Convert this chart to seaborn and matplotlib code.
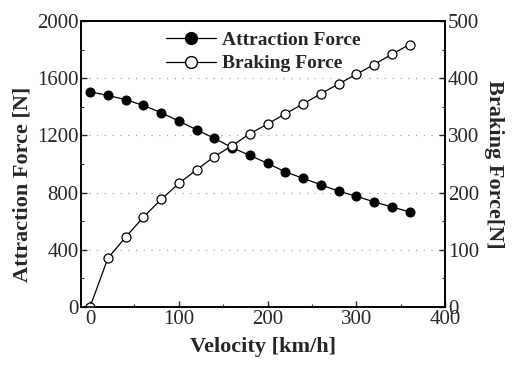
import matplotlib
matplotlib.use("Agg")
import matplotlib.pyplot as plt
import seaborn as sns
import pandas as pd
from matplotlib.ticker import MultipleLocator
from matplotlib.lines import Line2D

velocity = [0, 20, 40, 60, 80, 100, 120, 140, 160, 180, 200, 220, 240, 260, 280, 300, 320, 340, 360]
attraction = [1505, 1480, 1450, 1410, 1360, 1300, 1240, 1180, 1115, 1060, 1005, 945, 900, 855, 810, 775, 735, 700, 665]
braking = [0, 85, 122, 157, 188, 216, 240, 263, 282, 303, 320, 338, 355, 373, 390, 407, 424, 442, 459]

df = pd.DataFrame({"Velocity": velocity, "Attraction": attraction, "Braking": braking})

sns.set_theme(style="ticks")
plt.rcParams["font.family"] = ["Liberation Serif", "DejaVu Serif"]

fig = plt.figure(figsize=(5.17, 3.76), dpi=100)
ax = fig.add_axes([0.157, 0.1835, 0.704, 0.7605])
ax2 = ax.twinx()

sns.lineplot(data=df, x="Velocity", y="Attraction", ax=ax, color="black", lw=0.9,
             marker="o", markersize=6.5, markerfacecolor="black", markeredgecolor="black")
sns.lineplot(data=df, x="Velocity", y="Braking", ax=ax2, color="black", lw=0.9,
             marker="o", markersize=6.5, markerfacecolor="white", markeredgecolor="black",
             markeredgewidth=0.9)

ax.set_xlim(-10, 400)
ax.set_ylim(0, 2000)
ax2.set_ylim(0, 500)
ax.xaxis.set_major_locator(MultipleLocator(100))
ax.xaxis.set_minor_locator(MultipleLocator(50))
ax.yaxis.set_major_locator(MultipleLocator(400))
ax.yaxis.set_minor_locator(MultipleLocator(200))
ax2.yaxis.set_major_locator(MultipleLocator(100))
ax2.yaxis.set_minor_locator(MultipleLocator(50))

for yv in [400, 800, 1200, 1600]:
    ax.axhline(yv, color="#999999", lw=0.8, ls=(0, (1, 6)), zorder=0)

for a in (ax, ax2):
    for s in a.spines.values():
        s.set_linewidth(1.2)
        s.set_color("black")
ax.tick_params(axis="both", which="major", direction="in", length=4, width=1, labelsize=15, pad=2)
ax.tick_params(axis="both", which="minor", direction="in", length=2.5, width=0.8)
ax2.tick_params(axis="y", which="major", direction="in", length=4, width=1, labelsize=15, pad=2)
ax2.tick_params(axis="y", which="minor", direction="in", length=2.5, width=0.8)

ax.set_xlabel("Velocity [km/h]", fontsize=16, fontweight="bold", labelpad=6)
ax.set_ylabel("Attraction Force [N]", fontsize=16, fontweight="bold")
ax.yaxis.set_label_coords(-0.135, 0.43)
ax2.set_ylabel("Braking Force[N]", fontsize=16, fontweight="bold", rotation=270, labelpad=18)

handles = [
    Line2D([], [], color="black", lw=0.9, marker="o", markersize=8.5, markerfacecolor="black"),
    Line2D([], [], color="black", lw=0.9, marker="o", markersize=8.5, markerfacecolor="white"),
]
leg = ax.legend(handles, ["Attraction Force", "Braking Force"], loc="upper center",
                bbox_to_anchor=(0.5, 1.025), frameon=False, handlelength=2.6,
                prop={"weight": "bold", "size": 14}, labelspacing=0.3, handletextpad=0.3)

fig.savefig("out.png", dpi=100)
